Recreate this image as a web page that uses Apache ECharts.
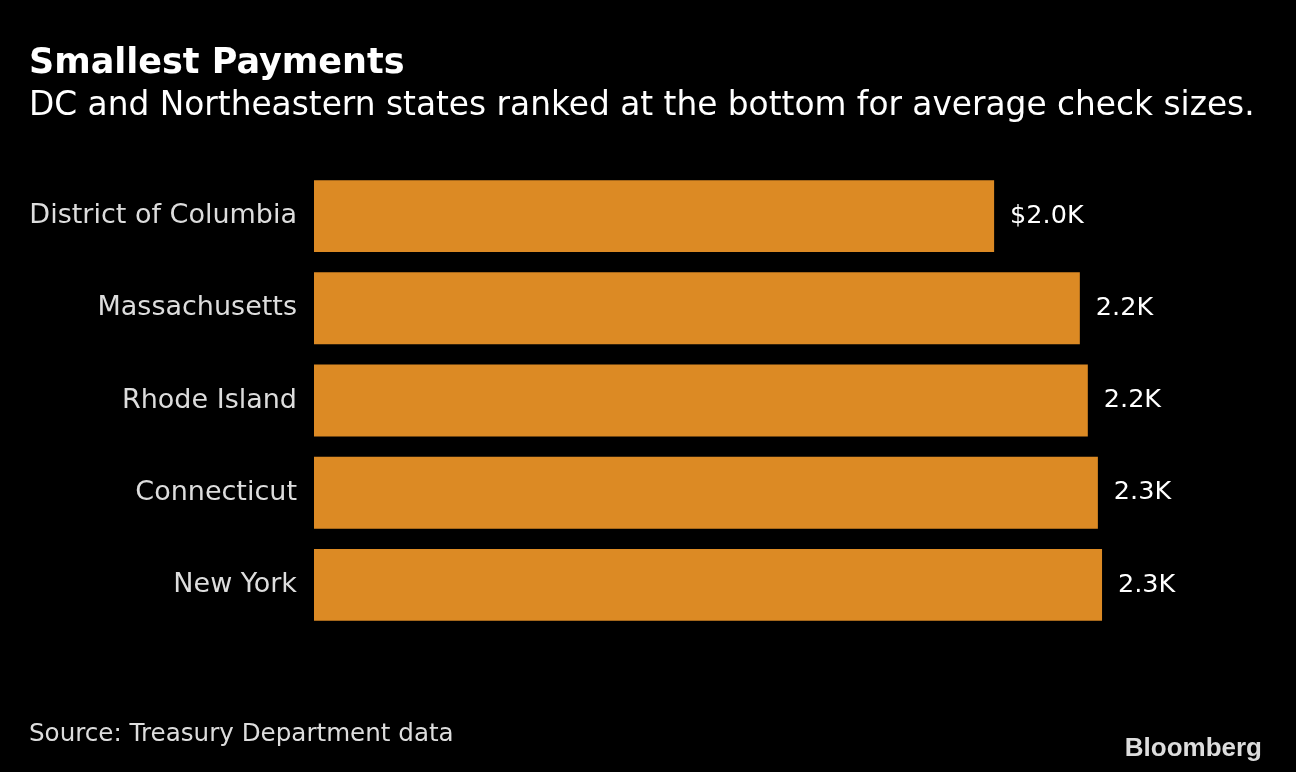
<!DOCTYPE html>
<html><head><meta charset="utf-8">
<script src="https://cdn.jsdelivr.net/npm/echarts@6/dist/echarts.min.js"></script>
<style>html,body{margin:0;padding:0;background:#000;}#c{width:1296px;height:772px;}</style>
</head><body><div id="c"></div>
<script>
const categories = ["District of Columbia","Massachusetts","Rhode Island","Connecticut","New York"];
const values = [1.96, 2.207, 2.23, 2.259, 2.271];
const FONT = '"DejaVu Sans",sans-serif';
const chart = echarts.init(document.getElementById('c'));
chart.setOption({
  backgroundColor:'#000',
  animation:false,
  title:[
    {text:'Smallest Payments',left:24,top:41,textStyle:{color:'#fff',fontSize:35,fontWeight:'bold',fontFamily:FONT}},
    {text:'DC and Northeastern states ranked at the bottom for average check sizes.',left:24,top:85,textStyle:{color:'#fff',fontSize:32.8,fontWeight:'normal',fontFamily:FONT}},
    {text:'Source: Treasury Department data',left:24,top:717,textStyle:{color:'#ddd',fontSize:24.6,fontWeight:'normal',fontFamily:FONT}},
    {text:'Bloomberg',right:29,top:731,textStyle:{color:'#ddd',fontSize:26,fontWeight:'bold',fontFamily:'Liberation Sans'}}
  ],
  grid:{left:314,top:170,height:461,width:902.2},
  xAxis:{type:'value',min:0,max:2.6,show:false},
  yAxis:{type:'category',data:categories,inverse:true,
    axisLine:{show:false},axisTick:{show:false},
    axisLabel:{color:'#ddd',fontSize:27,fontFamily:FONT,margin:17}},
  series:[{type:'bar',data:values,barCategoryGap:'22%',
    itemStyle:{color:'#dc8a24'},
    label:{show:true,position:'right',distance:16,color:'#fff',fontSize:25.5,fontFamily:FONT,
      formatter:p=>(p.dataIndex===0?'$':'')+p.value.toFixed(1)+'K'}}]
});
</script></body></html>
